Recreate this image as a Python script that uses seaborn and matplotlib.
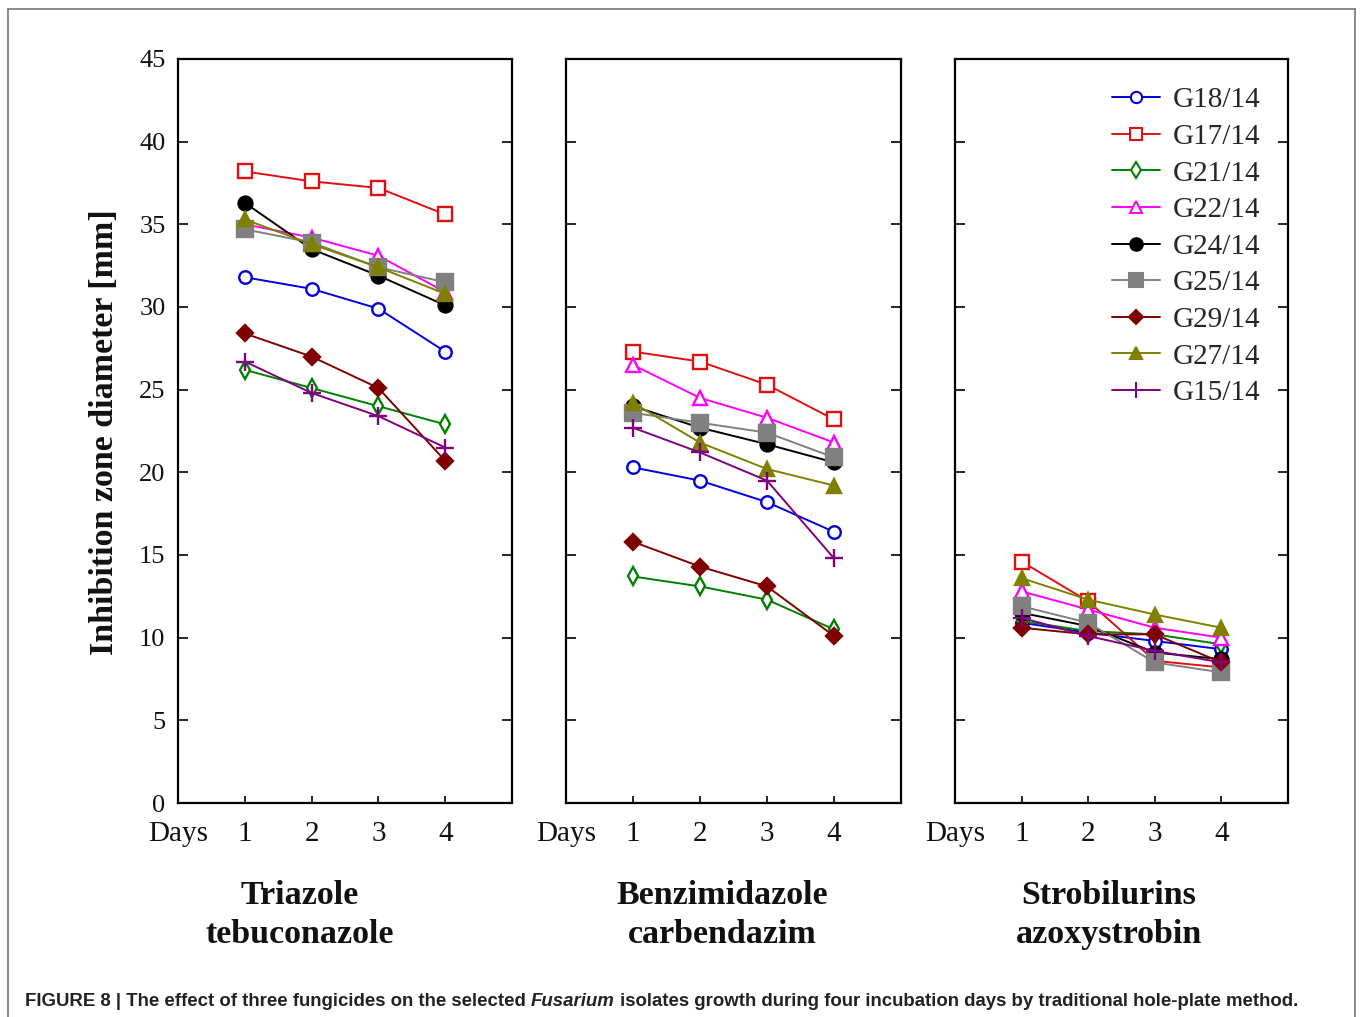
import pandas as pd
import matplotlib
matplotlib.use("Agg")
import matplotlib.pyplot as plt
from matplotlib.lines import Line2D
import seaborn as sns

# Isolates, in legend order
isolates = ["G18/14", "G17/14", "G21/14", "G22/14", "G24/14",
            "G25/14", "G29/14", "G27/14", "G15/14"]
days = [1, 2, 3, 4]

# Inhibition zone diameter [mm], one row per isolate (same order as above)
tebuconazole = [
    [31.8, 31.1, 29.9, 27.3],
    [38.2, 37.6, 37.2, 35.6],
    [26.2, 25.1, 24.0, 22.9],
    [35.0, 34.2, 33.1, 30.9],
    [36.3, 33.5, 31.9, 30.1],
    [34.7, 33.9, 32.4, 31.5],
    [28.4, 27.0, 25.1, 20.7],
    [35.3, 33.8, 32.4, 30.8],
    [26.7, 24.8, 23.4, 21.5],
]
carbendazim = [
    [20.3, 19.5, 18.2, 16.4],
    [27.3, 26.7, 25.3, 23.2],
    [13.7, 13.1, 12.3, 10.5],
    [26.5, 24.5, 23.3, 21.8],
    [24.0, 22.7, 21.7, 20.6],
    [23.6, 23.0, 22.4, 20.9],
    [15.8, 14.3, 13.1, 10.1],
    [24.2, 21.8, 20.2, 19.2],
    [22.7, 21.2, 19.5, 14.8],
]
azoxystrobin = [
    [10.9, 10.3, 9.8, 9.3],
    [14.6, 12.2, 8.6, 8.2],
    [11.0, 10.4, 10.2, 9.6],
    [12.8, 11.7, 10.6, 10.0],
    [11.5, 10.7, 9.1, 8.7],
    [11.9, 10.9, 8.5, 7.9],
    [10.6, 10.2, 10.2, 8.5],
    [13.6, 12.3, 11.4, 10.6],
    [11.2, 10.1, 9.2, 8.5],
]
panel_titles = ["Triazole\ntebuconazole", "Benzimidazole\ncarbendazim",
                "Strobilurins\nazoxystrobin"]
x_ticklabels = ["Days", "1", "2", "3", "4"]

# styling per isolate
colors = ["#0000e0", "#e01010", "#008000", "#ff00ff", "#000000",
          "#808080", "#800000", "#808000", "#800080"]
markers = ["o", "s", "d", "^", "o", "s", "D", "^", "+"]
filled = [False, False, False, False, True, True, True, True, True]
msizes = [9, 10, 9, 10, 10, 11, 8, 10, 13]

sns.set_theme(style="white")
plt.rcParams["font.family"] = ["Liberation Serif", "DejaVu Serif"]

W, H = 1360, 1017
fig = plt.figure(figsize=(W / 100, H / 100), dpi=100)

def px_axes(left, top, right, bottom):
    return [left / W, 1 - bottom / H, (right - left) / W, (bottom - top) / H]

axes_px = [(178, 59, 512, 803), (566, 59, 901, 803), (955, 59, 1288, 803)]
title_cx = [300, 722, 1109]

for i, (data, title) in enumerate(zip([tebuconazole, carbendazim, azoxystrobin], panel_titles)):
    ax = fig.add_axes(px_axes(*axes_px[i]))
    df = pd.DataFrame(data, index=isolates, columns=days)
    long = df.reset_index().melt(id_vars="index", var_name="day", value_name="diam")
    for j, iso in enumerate(isolates):
        sub = long[long["index"] == iso]
        sns.lineplot(data=sub, x="day", y="diam", ax=ax, color=colors[j],
                     marker=markers[j], markersize=msizes[j], linewidth=1.4,
                     markeredgewidth=1.7,
                     markerfacecolor=colors[j] if filled[j] else "white",
                     markeredgecolor=colors[j], label=iso, legend=False)
    ax.set_xlim(0, 5)
    ax.set_ylim(0, 45)
    ax.set_xticks(range(5))
    ax.set_xticklabels(x_ticklabels, fontsize=21)
    ax.set_yticks(range(0, 46, 5))
    ax.set_xlabel("")
    ax.set_ylabel("")
    ax.tick_params(axis="x", direction="in", length=5, width=1.2, bottom=True,
                   top=False, pad=13, colors="black", labelcolor="#111111")
    ax.tick_params(axis="y", direction="in", length=7, width=1.2, left=True,
                   right=True, pad=9, labelsize=19, colors="black",
                   labelcolor="#111111")
    if i > 0:
        ax.tick_params(axis="y", labelleft=False)
    for sp in ax.spines.values():
        sp.set_visible(True)
        sp.set_color("black")
        sp.set_linewidth(1.6)
    fig.text(title_cx[i] / W, 1 - 915 / H, title, ha="center", va="center",
             fontsize=24.5, fontweight="bold", linespacing=1.35, color="#111111")

    if i == 2:
        handles = [Line2D([], [], color=colors[j], marker=markers[j],
                          markersize=msizes[j] * 0.9, linewidth=1.4,
                          markeredgewidth=1.5,
                          markerfacecolor=colors[j] if filled[j] else "white")
                   for j in range(len(isolates))]
        ax.legend(handles, isolates, loc="upper right", frameon=False,
                  fontsize=21, handlelength=1.65, handletextpad=0.45,
                  labelspacing=0.35, borderaxespad=0.3,
                  bbox_to_anchor=(0.98, 0.99))

fig.text(105 / W, 1 - 432 / H, "Inhibition zone diameter [mm]", rotation=90,
         ha="center", va="center", fontsize=24.5, fontweight="bold", color="#111111")

# outer frame of the figure panel
frame_kw = dict(color="#777777", linewidth=1.2, transform=fig.transFigure)
fig.add_artist(Line2D([8 / W, 8 / W], [0, 1 - 9 / H], **frame_kw))
fig.add_artist(Line2D([8 / W, 1355 / W], [1 - 9 / H, 1 - 9 / H], **frame_kw))
fig.add_artist(Line2D([1355 / W, 1355 / W], [0, 1 - 9 / H], **frame_kw))

# caption with italic genus name, drawn piece by piece, scaled to the reference width
cap_font = ["Liberation Sans", "DejaVu Sans"]
pieces = [("FIGURE 8 | The effect of three fungicides on the selected ", "normal"),
          ("Fusarium", "italic"),
          (" isolates growth during four incubation days by traditional hole-plate method.", "normal")]
renderer = fig.canvas.get_renderer()

def draw_caption(size):
    x = 25
    texts = []
    for txt, style in pieces:
        t = fig.text(x / W, 1 - 1001 / H, txt, ha="left", va="center", fontsize=size,
                     fontweight="bold", fontstyle=style, family=cap_font, color="#222222")
        x += t.get_window_extent(renderer).width
        texts.append(t)
    return texts, x - 25

texts, width = draw_caption(14)
for t in texts:
    t.remove()
draw_caption(14 * 1277 / width)

fig.savefig("out.png", dpi=100, facecolor="white")
